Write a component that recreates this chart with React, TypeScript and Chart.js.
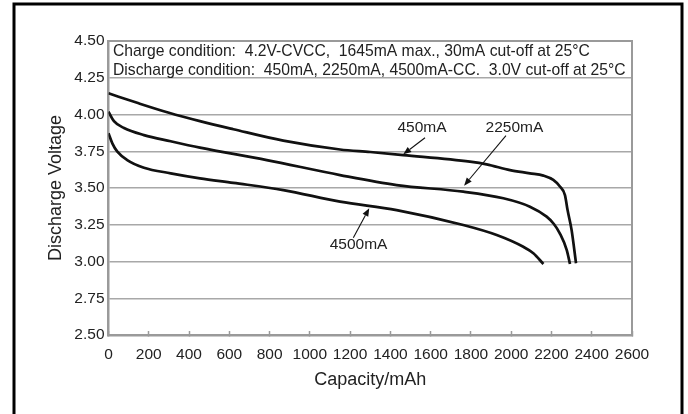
import React, { useEffect, useRef } from "react";
import { Chart, registerables } from "chart.js";

Chart.register(...registerables);

// ---- data ----
const capacity450 = [0, 150, 300, 454, 620, 868, 1150, 1300, 1464, 1795, 1878, 1994, 2093, 2160, 2209, 2242, 2267, 2280, 2300, 2322];
const voltage450 = [4.144, 4.076, 4.012, 3.955, 3.9, 3.822, 3.762, 3.745, 3.724, 3.679, 3.661, 3.622, 3.6, 3.584, 3.555, 3.51, 3.452, 3.35, 3.214, 2.988];

const capacity2250 = [0, 27, 77, 176, 309, 454, 786, 1150, 1431, 1762, 1961, 2093, 2176, 2212, 2242, 2276, 2292];
const voltage2250 = [4.019, 3.955, 3.908, 3.86, 3.818, 3.775, 3.69, 3.588, 3.52, 3.475, 3.43, 3.373, 3.305, 3.255, 3.19, 3.078, 2.983];

const capacity4500 = [0, 19, 44, 93, 176, 309, 454, 620, 868, 1150, 1431, 1762, 1928, 2060, 2110, 2160];
const voltage4500 = [3.872, 3.804, 3.747, 3.69, 3.638, 3.6, 3.566, 3.535, 3.486, 3.407, 3.35, 3.248, 3.18, 3.1, 3.056, 2.983];

const seriesNames = ["450mA", "2250mA", "4500mA"];

const xMin = 0;
const xMax = 2600;
const xStep = 200;
const yMin = 2.5;
const yMax = 4.5;
const yStep = 0.25;

const xTitle = "Capacity/mAh";
const yTitle = "Discharge Voltage";

const conditionLines = [
  "Charge condition:  4.2V-CVCC,  1645mA max., 30mA cut-off at 25\u00B0C",
  "Discharge condition:  450mA, 2250mA, 4500mA-CC.  3.0V cut-off at 25\u00B0C",
];

// annotation labels (data coordinates)
const labelCapacity = [1557, 2016, 1242];
const labelVoltage = [3.908, 3.908, 3.117];
const arrowFromCapacity = [1572, 1974, 1216];
const arrowFromVoltage = [3.842, 3.856, 3.162];
const arrowToCapacity = [1464, 1766, 1295];
const arrowToVoltage = [3.729, 3.516, 3.362];

const FONT = "'Liberation Sans', Arial, Helvetica, sans-serif";

function toPoints(xs: number[], ys: number[]) {
  return xs.map((x, i) => ({ x, y: ys[i] }));
}

const decorPlugin = {
  id: "decor",
  afterDatasetsDraw(chart: any) {
    const { ctx, chartArea, scales } = chart;
    const xs = scales.x;
    const ys = scales.y;
    ctx.save();
    // plot frame (top and right)
    ctx.strokeStyle = "#9a9a9a";
    ctx.lineWidth = 2;
    ctx.beginPath();
    ctx.moveTo(chartArea.left, chartArea.top);
    ctx.lineTo(chartArea.right, chartArea.top);
    ctx.lineTo(chartArea.right, chartArea.bottom);
    ctx.stroke();

    // condition text box
    ctx.fillStyle = "#222";
    ctx.font = `15.7px ${FONT}`;
    ctx.textBaseline = "middle";
    ctx.textAlign = "left";
    ctx.fillText(conditionLines[0], chartArea.left + 4.5, chartArea.top + 11);
    ctx.fillText(conditionLines[1], chartArea.left + 4.5, chartArea.top + 29.5);

    // annotations
    ctx.font = `15.5px ${FONT}`;
    for (let i = 0; i < seriesNames.length; i++) {
      const tx = xs.getPixelForValue(labelCapacity[i]);
      const ty = ys.getPixelForValue(labelVoltage[i]);
      ctx.textAlign = "center";
      ctx.fillStyle = "#222";
      ctx.fillText(seriesNames[i], tx, ty);
      const x1 = xs.getPixelForValue(arrowFromCapacity[i]);
      const y1 = ys.getPixelForValue(arrowFromVoltage[i]);
      const x2 = xs.getPixelForValue(arrowToCapacity[i]);
      const y2 = ys.getPixelForValue(arrowToVoltage[i]);
      const ang = Math.atan2(y2 - y1, x2 - x1);
      const headLen = 8;
      const headW = 3.2;
      const bx = x2 - headLen * Math.cos(ang);
      const by = y2 - headLen * Math.sin(ang);
      ctx.strokeStyle = "#111";
      ctx.lineWidth = 1.1;
      ctx.beginPath();
      ctx.moveTo(x1, y1);
      ctx.lineTo(bx, by);
      ctx.stroke();
      ctx.fillStyle = "#111";
      ctx.beginPath();
      ctx.moveTo(x2, y2);
      ctx.lineTo(bx + headW * Math.sin(ang), by - headW * Math.cos(ang));
      ctx.lineTo(bx - headW * Math.sin(ang), by + headW * Math.cos(ang));
      ctx.closePath();
      ctx.fill();
    }

    // outer frame
    ctx.strokeStyle = "#000";
    ctx.lineWidth = 3;
    ctx.beginPath();
    ctx.moveTo(14, 414);
    ctx.lineTo(14, 4);
    ctx.lineTo(682, 4);
    ctx.lineTo(682, 414);
    ctx.stroke();
    ctx.restore();
  },
};

export default function App() {
  const canvasRef = useRef<HTMLCanvasElement | null>(null);

  useEffect(() => {
    const canvas = canvasRef.current;
    if (!canvas) return;
    const lineStyle = {
      borderColor: "#111",
      borderWidth: 2.7,
      pointRadius: 0,
      fill: false,
      cubicInterpolationMode: "monotone" as const,
    };
    const chart = new Chart(canvas, {
      type: "line",
      data: {
        datasets: [
          { label: seriesNames[0], data: toPoints(capacity450, voltage450), ...lineStyle },
          { label: seriesNames[1], data: toPoints(capacity2250, voltage2250), ...lineStyle },
          { label: seriesNames[2], data: toPoints(capacity4500, voltage4500), ...lineStyle },
        ],
      },
      options: {
        animation: false,
        responsive: false,
        devicePixelRatio: 1,
        layout: { padding: { left: 0, right: 56, top: 41, bottom: 0 } },
        plugins: {
          legend: { display: false },
          tooltip: { enabled: false },
        },
        scales: {
          x: {
            type: "linear",
            min: xMin,
            max: xMax,
            afterFit: (scale: any) => {
              scale.height = 79;
            },
            ticks: {
              stepSize: xStep,
              color: "#222",
              font: { family: FONT, size: 15.5 },
              padding: 14,
              maxRotation: 0,
              autoSkip: false,
              callback: (v: any) => String(v),
            },
            grid: {
              drawOnChartArea: false,
              drawTicks: true,
              tickLength: -4,
              tickColor: "#9a9a9a",
              tickWidth: 1.5,
            },
            border: { color: "#9a9a9a", width: 2.5 },
            title: {
              display: true,
              text: xTitle,
              color: "#222",
              font: { family: FONT, size: 18 },
              padding: { top: 0, bottom: 23 },
            },
          },
          y: {
            type: "linear",
            min: yMin,
            max: yMax,
            afterFit: (scale: any) => {
              scale.width = 108.5;
            },
            ticks: {
              stepSize: yStep,
              color: "#222",
              font: { family: FONT, size: 15.5 },
              padding: 4,
              callback: (v: any) => Number(v).toFixed(2),
            },
            grid: {
              color: "#a8a8a8",
              lineWidth: 1.5,
              drawTicks: false,
            },
            border: { color: "#9a9a9a", width: 2.5 },
            title: {
              display: true,
              text: yTitle,
              color: "#222",
              font: { family: FONT, size: 18 },
              padding: { top: 45, bottom: 0 },
            },
          },
        },
      },
      plugins: [decorPlugin],
    });
    return () => chart.destroy();
  }, []);

  return (
    <div style={{ position: "absolute", left: 0, top: 0, width: 688, height: 414, background: "#fff" }}>
      <canvas ref={canvasRef} width={688} height={414} style={{ display: "block", width: 688, height: 414 }} />
    </div>
  );
}
